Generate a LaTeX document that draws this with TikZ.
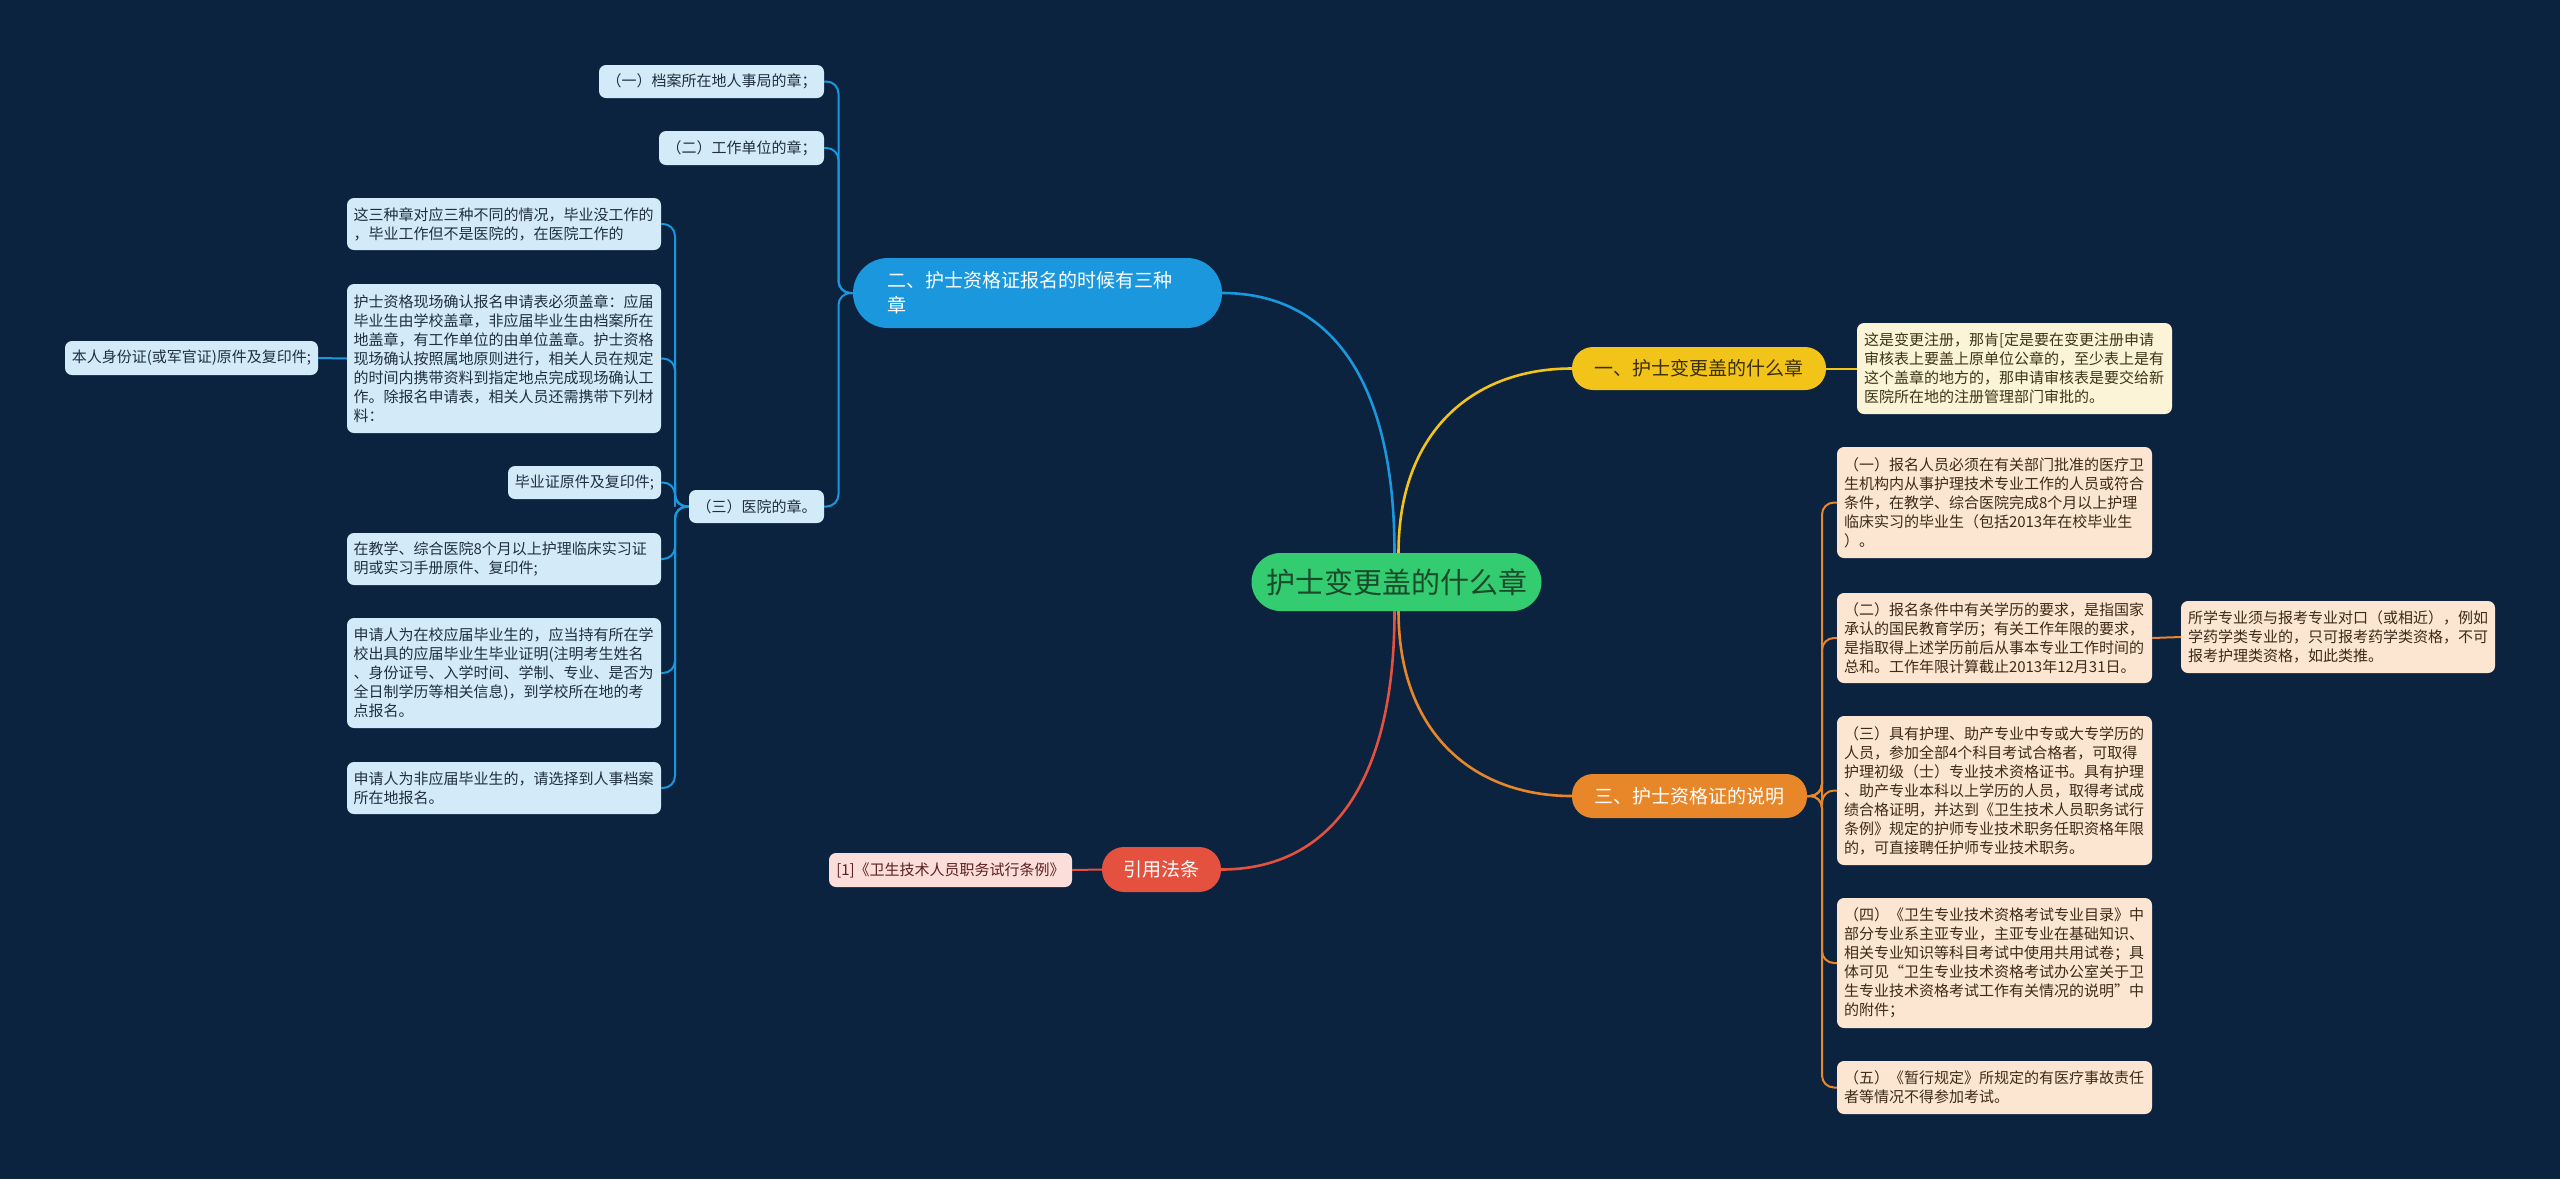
\documentclass[tikz,border=0pt]{standalone}
\usepackage{fontspec}
\setmainfont{Noto Sans CJK SC}
\usetikzlibrary{calc}
\definecolor{bg}{HTML}{0C2340}
\definecolor{rootfill}{HTML}{33CC70}
\definecolor{roottext}{HTML}{1B4A2B}
\definecolor{bluec}{HTML}{1A97DD}
\definecolor{bleaf}{HTML}{D3EBF8}
\definecolor{bleaftext}{HTML}{1F2F3F}
\definecolor{yelc}{HTML}{F2C41A}
\definecolor{yeltext}{HTML}{3A2E05}
\definecolor{yleaf}{HTML}{FCF4D6}
\definecolor{yleaftext}{HTML}{3E3418}
\definecolor{orac}{HTML}{E8862A}
\definecolor{oratext}{HTML}{FFFFFF}
\definecolor{oleaf}{HTML}{FCE6D2}
\definecolor{oleaftext}{HTML}{3E2A18}
\definecolor{redc}{HTML}{E4513F}
\definecolor{rleaf}{HTML}{FBDDDA}
\definecolor{rleaftext}{HTML}{5A2020}
\newcommand\leaffont{\fontsize{15pt}{19pt}\selectfont}
\newcommand\brfont{\fontsize{19pt}{25pt}\selectfont}
\newcommand\rootfont{\fontsize{29pt}{35pt}\selectfont}
\tikzset{
  rootbox/.style={fill=rootfill, text=roottext, font=\rootfont, inner sep=0pt,
    minimum width=290pt, minimum height=58pt, rounded corners=29pt},
  brbox/.style={inner sep=0pt, font=\brfont, rounded corners=21pt},
  leafbox/.style={inner sep=0pt, font=\leaffont, rounded corners=7pt, align=left},
  bleafbox/.style={leafbox, fill=bleaf, text=bleaftext},
  yleafbox/.style={leafbox, fill=yleaf, text=yleaftext},
  oleafbox/.style={leafbox, fill=oleaf, text=oleaftext},
  rleafbox/.style={leafbox, fill=rleaf, text=rleaftext},
  rootlink/.style={line width=2.6pt},
  leaflink/.style={line width=2pt, rounded corners=12pt},
}
\begin{document}
\begin{tikzpicture}[x=1pt,y=1pt]
\fill[bg] (0,0) rectangle (2560,-1179);
\useasboundingbox (0,0) rectangle (2560,-1179);

% root
\node[rootbox] (root) at (1396.5,-582) {护士变更盖的什么章};

% branches
\node[brbox, fill=bluec, text=white, minimum width=369pt, minimum height=70pt,
  rounded corners=35pt, text width=300pt, align=left] (b2) at (1037.5,-293)
  {二、护士资格证报名的时候有三种\\章};
\node[brbox, fill=yelc, text=yeltext, minimum width=254pt, minimum height=43pt] (b1)
  at (1699,-368.5) {一、护士变更盖的什么章};
\node[brbox, fill=orac, text=oratext, minimum width=235pt, minimum height=44pt] (b3)
  at (1689.5,-796) {三、护士资格证的说明};
\node[brbox, fill=redc, text=white, minimum width=119pt, minimum height=45pt,
  rounded corners=22pt] (b4) at (1161.5,-869.5) {引用法条};

% blue leaves
\node[bleafbox, minimum width=225pt, minimum height=33pt, align=center] (bl1)
  at (711.5,-81.5) {（一）档案所在地人事局的章；};
\node[bleafbox, minimum width=165pt, minimum height=34pt, align=center] (bl2)
  at (741.5,-148) {（二）工作单位的章；};
\node[bleafbox, minimum width=135pt, minimum height=33pt, align=center] (bl3)
  at (756.5,-506.5) {（三）医院的章。};

\node[bleafbox, minimum width=314pt, minimum height=52pt, text width=301pt] (c1)
  at (504,-224) {这三种章对应三种不同的情况，毕业没工作的\\，毕业工作但不是医院的，在医院工作的};
\node[bleafbox, minimum width=314pt, minimum height=149pt, text width=301pt] (c2)
  at (504,-358.5) {护士资格现场确认报名申请表必须盖章：应届\\毕业生由学校盖章，非应届毕业生由档案所在\\地盖章，有工作单位的由单位盖章。护士资格\\现场确认按照属地原则进行，相关人员在规定\\的时间内携带资料到指定地点完成现场确认工\\作。除报名申请表，相关人员还需携带下列材\\料：};
\node[bleafbox, minimum width=253pt, minimum height=34pt, align=center] (c2a)
  at (191.5,-358) {本人身份证(或军官证)原件及复印件;};
\node[bleafbox, minimum width=153pt, minimum height=33pt, align=center] (c3)
  at (584.5,-482.5) {毕业证原件及复印件;};
\node[bleafbox, minimum width=314pt, minimum height=52pt, text width=301pt] (c4)
  at (504,-559) {在教学、综合医院8个月以上护理临床实习证\\明或实习手册原件、复印件;};
\node[bleafbox, minimum width=314pt, minimum height=110pt, text width=301pt] (c5)
  at (504,-673) {申请人为在校应届毕业生的，应当持有所在学\\校出具的应届毕业生毕业证明(注明考生姓名\\、身份证号、入学时间、学制、专业、是否为\\全日制学历等相关信息)，到学校所在地的考\\点报名。};
\node[bleafbox, minimum width=314pt, minimum height=52pt, text width=301pt] (c6)
  at (504,-788) {申请人为非应届毕业生的，请选择到人事档案\\所在地报名。};

% yellow leaf
\node[yleafbox, minimum width=315pt, minimum height=91pt, text width=301pt] (yl)
  at (2014.5,-368.5) {这是变更注册，那肯[定是要在变更注册申请\\审核表上要盖上原单位公章的，至少表上是有\\这个盖章的地方的，那申请审核表是要交给新\\医院所在地的注册管理部门审批的。};

% orange leaves
\node[oleafbox, minimum width=315pt, minimum height=111pt, text width=301pt] (ol1)
  at (1994.5,-502.5) {（一）报名人员必须在有关部门批准的医疗卫\\生机构内从事护理技术专业工作的人员或符合\\条件，在教学、综合医院完成8个月以上护理\\临床实习的毕业生（包括2013年在校毕业生\\）。};
\node[oleafbox, minimum width=315pt, minimum height=90pt, text width=301pt] (ol2)
  at (1994.5,-638) {（二）报名条件中有关学历的要求，是指国家\\承认的国民教育学历；有关工作年限的要求，\\是指取得上述学历前后从事本专业工作时间的\\总和。工作年限计算截止2013年12月31日。};
\node[oleafbox, minimum width=314pt, minimum height=72pt, text width=300pt] (osub)
  at (2338,-637) {所学专业须与报考专业对口（或相近），例如\\学药学类专业的，只可报考药学类资格，不可\\报考护理类资格，如此类推。};
\node[oleafbox, minimum width=315pt, minimum height=149pt, text width=301pt] (ol3)
  at (1994.5,-790.5) {（三）具有护理、助产专业中专或大专学历的\\人员，参加全部4个科目考试合格者，可取得\\护理初级（士）专业技术资格证书。具有护理\\、助产专业本科以上学历的人员，取得考试成\\绩合格证明，并达到《卫生技术人员职务试行\\条例》规定的护师专业技术职务任职资格年限\\的，可直接聘任护师专业技术职务。};
\node[oleafbox, minimum width=315pt, minimum height=130pt, text width=301pt] (ol4)
  at (1994.5,-963) {（四）《卫生专业技术资格考试专业目录》中\\部分专业系主亚专业，主亚专业在基础知识、\\相关专业知识等科目考试中使用共用试卷；具\\体可见“卫生专业技术资格考试办公室关于卫\\生专业技术资格考试工作有关情况的说明”中\\的附件；};
\node[oleafbox, minimum width=315pt, minimum height=53pt, text width=301pt] (ol5)
  at (1994.5,-1087.5) {（五）《暂行规定》所规定的有医疗事故责任\\者等情况不得参加考试。};

% red leaf
\node[rleafbox, minimum width=243pt, minimum height=34pt, align=center] (rl)
  at (950.5,-870) {[1]《卫生技术人员职务试行条例》};

% root links
\draw[rootlink, bluec] ($(root.north)+(-2,0)$) to[out=90,in=0,out distance=170pt,in distance=110pt] (b2.east);
\draw[rootlink, yelc] ($(root.north)+(2,0)$) to[out=90,in=180,out distance=120pt,in distance=100pt] (b1.west);
\draw[rootlink, orac] ($(root.south)+(2,0)$) to[out=-90,in=180,out distance=120pt,in distance=100pt] (b3.west);
\draw[rootlink, redc] ($(root.south)+(-2,0)$) to[out=-90,in=0,out distance=170pt,in distance=110pt] (b4.east);

% blue links
\foreach \n in {bl1,bl2,bl3}
  \draw[leaflink, bluec] (b2.west) -| ($(b2.west)!0.5!(\n.east)$) |- (\n.east);
\foreach \n in {c1,c2,c3,c4,c5,c6}
  \draw[leaflink, bluec] (bl3.west) -| ($(bl3.west)!0.5!(\n.east)$) |- (\n.east);
\draw[leaflink, bluec] (c2.west) -- (c2a.east);

% yellow link
\draw[leaflink, yelc] (b1.east) -- (yl.west);

% orange links
\foreach \n in {ol1,ol2,ol3,ol4,ol5}
  \draw[leaflink, orac] (b3.east) -| ($(b3.east)!0.5!(\n.west)$) |- (\n.west);
\draw[leaflink, orac] (ol2.east) -- (osub.west);

% red link
\draw[leaflink, redc] (b4.west) -- (rl.east);
\end{tikzpicture}
\end{document}
